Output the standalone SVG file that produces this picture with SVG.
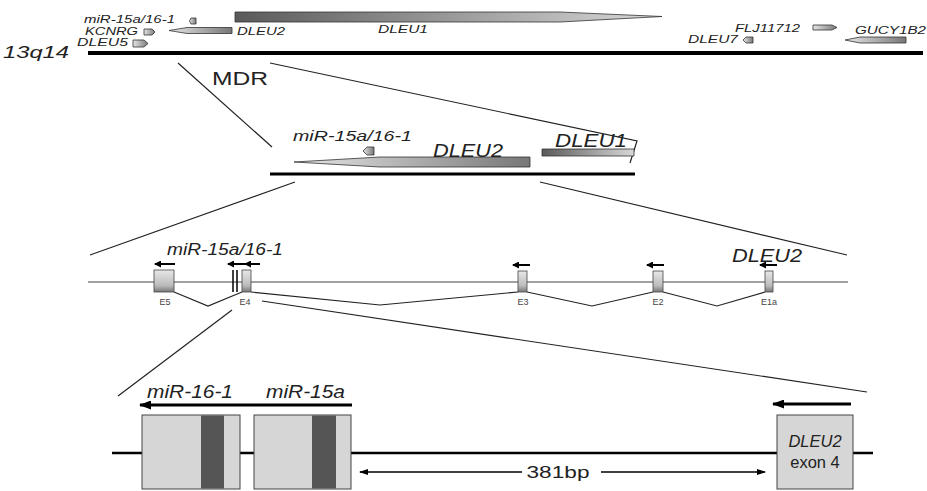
<svg xmlns="http://www.w3.org/2000/svg" width="927" height="491" viewBox="0 0 927 491">
<defs>
<style>
text{font-family:"Liberation Sans",Arial,sans-serif;fill:#222}
.it{font-style:italic}
.t11{font-size:11px}
.chr{stroke:#000;fill:none}
.ln{stroke:#222;stroke-width:1.2;fill:none}
.gene{stroke:#333;stroke-width:0.8}
.exon{fill:url(#gv);stroke:#444;stroke-width:0.8}
.box{fill:#d6d6d6;stroke:#444;stroke-width:1}
.stripe{fill:#555}
.sa{stroke:#000;stroke-width:2;marker-end:url(#hs)}
.la{stroke:#000;stroke-width:3;marker-end:url(#hl)}
.ea{font-size:9px;fill:#444;text-anchor:middle}
</style>
<linearGradient id="gdark" x1="0" x2="1" y1="0" y2="0"><stop offset="0" stop-color="#5a5a5a"/><stop offset="1" stop-color="#d8d8d8"/></linearGradient>
<linearGradient id="glight" x1="0" x2="1" y1="0" y2="0"><stop offset="0" stop-color="#e6e6e6"/><stop offset="1" stop-color="#777"/></linearGradient>
<linearGradient id="gv" x1="0" x2="0" y1="0" y2="1"><stop offset="0" stop-color="#e8e8e8"/><stop offset="0.7" stop-color="#bbb"/><stop offset="1" stop-color="#777"/></linearGradient>
<linearGradient id="gb" x1="0" x2="0" y1="0" y2="1"><stop offset="0" stop-color="#d6d6d6"/><stop offset="0.9" stop-color="#d2d2d2"/><stop offset="1" stop-color="#999"/></linearGradient>
<marker id="hs" markerUnits="userSpaceOnUse" markerWidth="7" markerHeight="7" refX="6" refY="3.5" orient="auto"><path d="M0,0 L7,3.5 L0,7 z" fill="#000"/></marker>
<marker id="hl" markerUnits="userSpaceOnUse" markerWidth="12" markerHeight="9" refX="11" refY="4.5" orient="auto"><path d="M0,0 L12,4.5 L0,9 z" fill="#000"/></marker>
<marker id="hm" markerUnits="userSpaceOnUse" markerWidth="9" markerHeight="6" refX="8" refY="3" orient="auto"><path d="M0,0 L9,3 L0,6 z" fill="#000"/></marker>
</defs>

<g id="connectors">
<line class="ln" x1="178" y1="63" x2="272" y2="147"/>
<polyline class="ln" points="270,63 637,141 630,163"/>
<line class="ln" x1="295" y1="182" x2="90" y2="255"/>
<line class="ln" x1="540" y1="182" x2="847" y2="255"/>
<line class="ln" x1="232" y1="310" x2="118" y2="396"/>
<line class="ln" x1="262" y1="301" x2="867" y2="392"/>
</g>

<g id="chr13q14">
<line class="chr" x1="88" y1="53" x2="923" y2="53" stroke-width="4"/>
<text class="it" x="3" y="58" font-size="17" textLength="66" lengthAdjust="spacingAndGlyphs">13q14</text>
</g>

<g id="top-genes">
<polygon class="gene" fill="url(#gdark)" points="235,12 560,12 662,16.5 560,22 235,22"/>
<text class="it t11" x="378" y="33" textLength="50" lengthAdjust="spacingAndGlyphs">DLEU1</text>
<polygon class="gene" fill="url(#glight)" points="169,30.5 187,27.5 232,27.5 232,33.5 187,33.5"/>
<text class="it t11" x="237" y="35" textLength="48" lengthAdjust="spacingAndGlyphs">DLEU2</text>
<text class="it t11" x="84" y="23" textLength="91" lengthAdjust="spacingAndGlyphs">miR-15a/16-1</text>
<path class="gene" fill="url(#glight)" d="M196,18 L191,18 Q188,21 191,24 L196,24 z"/>
<text class="it t11" x="85" y="35" textLength="53" lengthAdjust="spacingAndGlyphs">KCNRG</text>
<polygon class="gene" fill="url(#glight)" points="144,29 152,29 155,32 152,35 144,35"/>
<text class="it t11" x="77" y="46" textLength="51" lengthAdjust="spacingAndGlyphs">DLEU5</text>
<polygon class="gene" fill="url(#glight)" points="133,40 144,40 148,43.5 144,47 133,47"/>
<text class="it t11" x="735" y="32" textLength="65" lengthAdjust="spacingAndGlyphs">FLJ11712</text>
<polygon class="gene" fill="url(#glight)" points="813,25 832,25 837,27.5 832,30 813,30"/>
<text class="it t11" x="688" y="43" textLength="50" lengthAdjust="spacingAndGlyphs">DLEU7</text>
<path class="gene" fill="url(#glight)" d="M753,37 L746,37 L743,40 L746,43 L753,43 z"/>
<text class="it t11" x="855" y="34" textLength="71" lengthAdjust="spacingAndGlyphs">GUCY1B2</text>
<polygon class="gene" fill="url(#glight)" points="845,40 860,37 906,37 906,43 860,43"/>
</g>

<g id="mdr">
<text x="212" y="85" font-size="18" textLength="56" lengthAdjust="spacingAndGlyphs">MDR</text>
<line class="chr" x1="270" y1="174" x2="635" y2="174" stroke-width="3"/>
<polygon class="gene" fill="url(#glight)" points="294,162 380,157 530,157 530,167 380,167"/>
<text class="it" x="433" y="157" font-size="18" textLength="70" lengthAdjust="spacingAndGlyphs">DLEU2</text>
<text class="it" x="293" y="141" font-size="15" textLength="119" lengthAdjust="spacingAndGlyphs">miR-15a/16-1</text>
<path class="gene" fill="url(#glight)" d="M374,147 L367,147 L363,151 L367,155 L374,155 z"/>
<polygon class="gene" fill="url(#gdark)" points="542,149 634,149 634,156 542,156"/>
<text class="it" x="555" y="147" font-size="18" textLength="72" lengthAdjust="spacingAndGlyphs">DLEU1</text>
</g>

<g id="exon-row">
<line x1="88" y1="282" x2="848" y2="282" stroke="#444" stroke-width="1"/>
<polyline class="ln" points="174,292 208,306 242,292"/>
<polyline class="ln" points="251,292 380,305 518,292"/>
<polyline class="ln" points="527,292 592,306 653,292"/>
<polyline class="ln" points="663,292 717,306 765,292"/>
<text class="it" x="167" y="255" font-size="16" textLength="116" lengthAdjust="spacingAndGlyphs">miR-15a/16-1</text>
<text class="it" x="732" y="262" font-size="18" textLength="70" lengthAdjust="spacingAndGlyphs">DLEU2</text>
</g>

<g id="E5">
<rect class="exon" x="154" y="270" width="20" height="22"/>
<line class="sa" x1="175" y1="264" x2="155" y2="264"/>
<text class="ea" x="165" y="305">E5</text>
</g>
<g id="E4">
<line x1="233" y1="270" x2="233" y2="292" stroke="#000" stroke-width="1.5"/>
<line x1="237" y1="270" x2="237" y2="292" stroke="#000" stroke-width="1.5"/>
<rect class="exon" x="242" y="270" width="9" height="22"/>
<line class="sa" x1="245" y1="264" x2="228" y2="264"/>
<line class="sa" x1="260" y1="264" x2="245" y2="264"/>
<text class="ea" x="245" y="305">E4</text>
</g>
<g id="E3">
<rect class="exon" x="518" y="271" width="9" height="21"/>
<line class="sa" x1="530" y1="265" x2="513" y2="265"/>
<text class="ea" x="523" y="305">E3</text>
</g>
<g id="E2">
<rect class="exon" x="653" y="271" width="10" height="21"/>
<line class="sa" x1="664" y1="265" x2="647" y2="265"/>
<text class="ea" x="658" y="305">E2</text>
</g>
<g id="E1a">
<rect class="exon" x="765" y="271" width="8" height="21"/>
<line class="sa" x1="777" y1="265" x2="760" y2="265"/>
<text class="ea" x="769" y="305">E1a</text>
</g>

<g id="detail">
<line class="chr" x1="112" y1="453" x2="873" y2="453" stroke-width="2.5"/>
<line class="la" x1="352" y1="405" x2="140" y2="405"/>
<text class="it" x="147" y="398" font-size="19" textLength="86" lengthAdjust="spacingAndGlyphs">miR-16-1</text>
<text class="it" x="266" y="398" font-size="19" textLength="79" lengthAdjust="spacingAndGlyphs">miR-15a</text>
</g>
<g id="miR-16-1">
<rect class="box" x="142" y="415" width="98" height="74" fill="url(#gb)"/>
<rect class="stripe" x="201" y="415.5" width="23" height="73"/>
</g>
<g id="miR-15a">
<rect class="box" x="254" y="415" width="97" height="74" fill="url(#gb)"/>
<rect class="stripe" x="312" y="415.5" width="24" height="73"/>
</g>
<g id="DLEU2-exon4">
<rect class="box" x="777" y="415" width="76" height="74"/>
<line class="la" x1="851" y1="404" x2="773" y2="404"/>
<text class="it" x="815" y="447" font-size="16.5" text-anchor="middle">DLEU2</text>
<text x="815" y="468" font-size="16.5" text-anchor="middle">exon 4</text>
</g>
<g id="distance">
<line x1="522" y1="472" x2="360" y2="472" stroke="#000" stroke-width="1.3" marker-end="url(#hm)"/>
<line x1="601" y1="472" x2="765" y2="472" stroke="#000" stroke-width="1.3" marker-end="url(#hm)"/>
<text x="558" y="478" font-size="17" text-anchor="middle" textLength="63" lengthAdjust="spacingAndGlyphs">381bp</text>
</g>
</svg>
